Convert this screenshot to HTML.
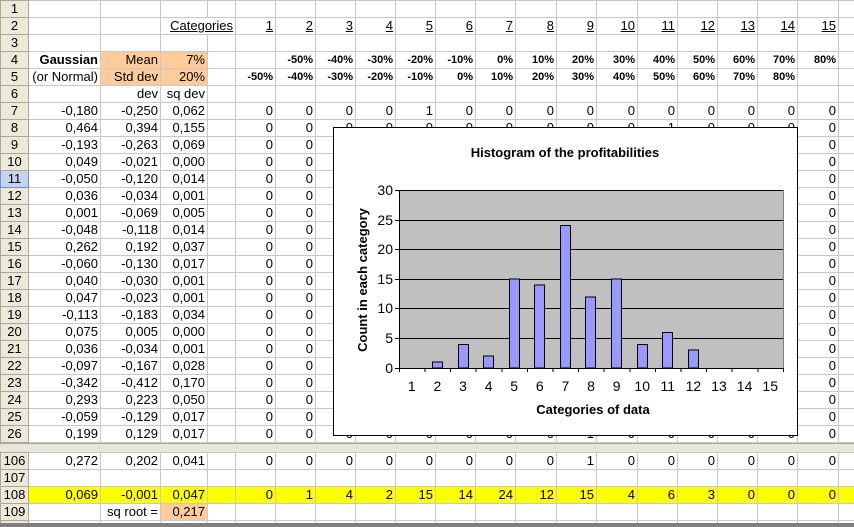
<!DOCTYPE html>
<html><head><meta charset="utf-8">
<style>
html,body{margin:0;width:854px;height:527px;overflow:hidden;}
body{background:#fff;position:relative;font-family:"Liberation Sans",Arial,sans-serif;}
table{border-collapse:collapse;table-layout:fixed;position:absolute;left:0;}
td{border:1px solid #c8c8c8;height:16px;padding:0 2px 0 0;font-size:13px;line-height:16px;text-align:right;white-space:nowrap;overflow:hidden;}
td.h{background:#ece9d8;border:1px solid #aca899;text-align:center;padding:0;color:#000;}
td.sel{background:#c5d3ec;border-color:#6b8fd1;}
.o{background:#ffcc99;}
.u{text-decoration:underline;}
.p{font-size:11px;font-weight:bold;}
tr.y td{background:#ffff00;}
tr.y td.h{background:#ece9d8;}
#split{position:absolute;left:0;top:443px;width:854px;height:8px;background:#e8e6dc;border-top:1px solid #aca899;border-bottom:1px solid #aca899;}
#chart{position:absolute;left:333px;top:127px;width:463px;height:307px;background:#fff;border:1px solid #000;}
#frame{position:absolute;left:0;top:523px;width:854px;height:4px;background:#808080;z-index:5;}
</style></head><body>
<table style="top:0;width:855px">
<colgroup><col style="width:28px"><col style="width:72px"><col style="width:60px"><col style="width:47px"><col style="width:28px">
<col style="width:40px"><col style="width:40px"><col style="width:40px"><col style="width:40px"><col style="width:40px"><col style="width:40px"><col style="width:40px"><col style="width:41px"><col style="width:40px"><col style="width:41px"><col style="width:40px"><col style="width:40px"><col style="width:40px"><col style="width:40px"><col style="width:41px"><col style="width:17px"></colgroup>
<tr><td class="h">1</td><td></td><td></td><td></td><td></td><td></td><td></td><td></td><td></td><td></td><td></td><td></td><td></td><td></td><td></td><td></td><td></td><td></td><td></td><td></td><td></td></tr>
<tr><td class="h">2</td><td></td><td></td><td colspan="2"><span class="u">Categories</span></td><td class="u">1</td><td class="u">2</td><td class="u">3</td><td class="u">4</td><td class="u">5</td><td class="u">6</td><td class="u">7</td><td class="u">8</td><td class="u">9</td><td class="u">10</td><td class="u">11</td><td class="u">12</td><td class="u">13</td><td class="u">14</td><td class="u">15</td><td></td></tr>
<tr><td class="h">3</td><td></td><td></td><td></td><td></td><td></td><td></td><td></td><td></td><td></td><td></td><td></td><td></td><td></td><td></td><td></td><td></td><td></td><td></td><td></td><td></td></tr>
<tr><td class="h">4</td><td><b>Gaussian</b></td><td class="o">Mean</td><td class="o">7%</td><td></td><td></td><td class="p">-50%</td><td class="p">-40%</td><td class="p">-30%</td><td class="p">-20%</td><td class="p">-10%</td><td class="p">0%</td><td class="p">10%</td><td class="p">20%</td><td class="p">30%</td><td class="p">40%</td><td class="p">50%</td><td class="p">60%</td><td class="p">70%</td><td class="p">80%</td><td></td></tr>
<tr><td class="h">5</td><td>(or Normal)</td><td class="o">Std dev</td><td class="o">20%</td><td></td><td class="p">-50%</td><td class="p">-40%</td><td class="p">-30%</td><td class="p">-20%</td><td class="p">-10%</td><td class="p">0%</td><td class="p">10%</td><td class="p">20%</td><td class="p">30%</td><td class="p">40%</td><td class="p">50%</td><td class="p">60%</td><td class="p">70%</td><td class="p">80%</td><td></td><td></td></tr>
<tr><td class="h">6</td><td></td><td>dev</td><td>sq dev</td><td></td><td></td><td></td><td></td><td></td><td></td><td></td><td></td><td></td><td></td><td></td><td></td><td></td><td></td><td></td><td></td><td></td></tr>
<tr><td class="h">7</td><td>-0,180</td><td>-0,250</td><td>0,062</td><td></td><td>0</td><td>0</td><td>0</td><td>0</td><td>1</td><td>0</td><td>0</td><td>0</td><td>0</td><td>0</td><td>0</td><td>0</td><td>0</td><td>0</td><td>0</td><td></td></tr>
<tr><td class="h">8</td><td>0,464</td><td>0,394</td><td>0,155</td><td></td><td>0</td><td>0</td><td>0</td><td>0</td><td>0</td><td>0</td><td>0</td><td>0</td><td>0</td><td>0</td><td>1</td><td>0</td><td>0</td><td>0</td><td>0</td><td></td></tr>
<tr><td class="h">9</td><td>-0,193</td><td>-0,263</td><td>0,069</td><td></td><td>0</td><td>0</td><td>0</td><td>0</td><td>0</td><td>0</td><td>0</td><td>0</td><td>0</td><td>0</td><td>0</td><td>0</td><td>0</td><td>0</td><td>0</td><td></td></tr>
<tr><td class="h">10</td><td>0,049</td><td>-0,021</td><td>0,000</td><td></td><td>0</td><td>0</td><td>0</td><td>0</td><td>0</td><td>0</td><td>0</td><td>0</td><td>0</td><td>0</td><td>0</td><td>0</td><td>0</td><td>0</td><td>0</td><td></td></tr>
<tr><td class="h sel">11</td><td>-0,050</td><td>-0,120</td><td>0,014</td><td></td><td>0</td><td>0</td><td>0</td><td>0</td><td>0</td><td>0</td><td>0</td><td>0</td><td>0</td><td>0</td><td>0</td><td>0</td><td>0</td><td>0</td><td>0</td><td></td></tr>
<tr><td class="h">12</td><td>0,036</td><td>-0,034</td><td>0,001</td><td></td><td>0</td><td>0</td><td>0</td><td>0</td><td>0</td><td>0</td><td>0</td><td>0</td><td>0</td><td>0</td><td>0</td><td>0</td><td>0</td><td>0</td><td>0</td><td></td></tr>
<tr><td class="h">13</td><td>0,001</td><td>-0,069</td><td>0,005</td><td></td><td>0</td><td>0</td><td>0</td><td>0</td><td>0</td><td>0</td><td>0</td><td>0</td><td>0</td><td>0</td><td>0</td><td>0</td><td>0</td><td>0</td><td>0</td><td></td></tr>
<tr><td class="h">14</td><td>-0,048</td><td>-0,118</td><td>0,014</td><td></td><td>0</td><td>0</td><td>0</td><td>0</td><td>0</td><td>0</td><td>0</td><td>0</td><td>0</td><td>0</td><td>0</td><td>0</td><td>0</td><td>0</td><td>0</td><td></td></tr>
<tr><td class="h">15</td><td>0,262</td><td>0,192</td><td>0,037</td><td></td><td>0</td><td>0</td><td>0</td><td>0</td><td>0</td><td>0</td><td>0</td><td>0</td><td>0</td><td>0</td><td>0</td><td>0</td><td>0</td><td>0</td><td>0</td><td></td></tr>
<tr><td class="h">16</td><td>-0,060</td><td>-0,130</td><td>0,017</td><td></td><td>0</td><td>0</td><td>0</td><td>0</td><td>0</td><td>0</td><td>0</td><td>0</td><td>0</td><td>0</td><td>0</td><td>0</td><td>0</td><td>0</td><td>0</td><td></td></tr>
<tr><td class="h">17</td><td>0,040</td><td>-0,030</td><td>0,001</td><td></td><td>0</td><td>0</td><td>0</td><td>0</td><td>0</td><td>0</td><td>0</td><td>0</td><td>0</td><td>0</td><td>0</td><td>0</td><td>0</td><td>0</td><td>0</td><td></td></tr>
<tr><td class="h">18</td><td>0,047</td><td>-0,023</td><td>0,001</td><td></td><td>0</td><td>0</td><td>0</td><td>0</td><td>0</td><td>0</td><td>0</td><td>0</td><td>0</td><td>0</td><td>0</td><td>0</td><td>0</td><td>0</td><td>0</td><td></td></tr>
<tr><td class="h">19</td><td>-0,113</td><td>-0,183</td><td>0,034</td><td></td><td>0</td><td>0</td><td>0</td><td>0</td><td>0</td><td>0</td><td>0</td><td>0</td><td>0</td><td>0</td><td>0</td><td>0</td><td>0</td><td>0</td><td>0</td><td></td></tr>
<tr><td class="h">20</td><td>0,075</td><td>0,005</td><td>0,000</td><td></td><td>0</td><td>0</td><td>0</td><td>0</td><td>0</td><td>0</td><td>0</td><td>0</td><td>0</td><td>0</td><td>0</td><td>0</td><td>0</td><td>0</td><td>0</td><td></td></tr>
<tr><td class="h">21</td><td>0,036</td><td>-0,034</td><td>0,001</td><td></td><td>0</td><td>0</td><td>0</td><td>0</td><td>0</td><td>0</td><td>0</td><td>0</td><td>0</td><td>0</td><td>0</td><td>0</td><td>0</td><td>0</td><td>0</td><td></td></tr>
<tr><td class="h">22</td><td>-0,097</td><td>-0,167</td><td>0,028</td><td></td><td>0</td><td>0</td><td>0</td><td>0</td><td>0</td><td>0</td><td>0</td><td>0</td><td>0</td><td>0</td><td>0</td><td>0</td><td>0</td><td>0</td><td>0</td><td></td></tr>
<tr><td class="h">23</td><td>-0,342</td><td>-0,412</td><td>0,170</td><td></td><td>0</td><td>0</td><td>0</td><td>0</td><td>0</td><td>0</td><td>0</td><td>0</td><td>0</td><td>0</td><td>0</td><td>0</td><td>0</td><td>0</td><td>0</td><td></td></tr>
<tr><td class="h">24</td><td>0,293</td><td>0,223</td><td>0,050</td><td></td><td>0</td><td>0</td><td>0</td><td>0</td><td>0</td><td>0</td><td>0</td><td>0</td><td>0</td><td>0</td><td>0</td><td>0</td><td>0</td><td>0</td><td>0</td><td></td></tr>
<tr><td class="h">25</td><td>-0,059</td><td>-0,129</td><td>0,017</td><td></td><td>0</td><td>0</td><td>0</td><td>0</td><td>0</td><td>0</td><td>0</td><td>0</td><td>0</td><td>0</td><td>0</td><td>0</td><td>0</td><td>0</td><td>0</td><td></td></tr>
<tr><td class="h">26</td><td>0,199</td><td>0,129</td><td>0,017</td><td></td><td>0</td><td>0</td><td>0</td><td>0</td><td>0</td><td>0</td><td>0</td><td>0</td><td>1</td><td>0</td><td>0</td><td>0</td><td>0</td><td>0</td><td>0</td><td></td></tr>
</table>
<div id="split"></div>
<table style="top:452px;width:855px">
<colgroup><col style="width:28px"><col style="width:72px"><col style="width:60px"><col style="width:47px"><col style="width:28px">
<col style="width:40px"><col style="width:40px"><col style="width:40px"><col style="width:40px"><col style="width:40px"><col style="width:40px"><col style="width:40px"><col style="width:41px"><col style="width:40px"><col style="width:41px"><col style="width:40px"><col style="width:40px"><col style="width:40px"><col style="width:40px"><col style="width:41px"><col style="width:17px"></colgroup>
<tr><td class="h">106</td><td>0,272</td><td>0,202</td><td>0,041</td><td></td><td>0</td><td>0</td><td>0</td><td>0</td><td>0</td><td>0</td><td>0</td><td>0</td><td>1</td><td>0</td><td>0</td><td>0</td><td>0</td><td>0</td><td>0</td><td></td></tr>
<tr><td class="h">107</td><td></td><td></td><td></td><td></td><td></td><td></td><td></td><td></td><td></td><td></td><td></td><td></td><td></td><td></td><td></td><td></td><td></td><td></td><td></td><td></td></tr>
<tr class="y"><td class="h">108</td><td>0,069</td><td>-0,001</td><td>0,047</td><td></td><td>0</td><td>1</td><td>4</td><td>2</td><td>15</td><td>14</td><td>24</td><td>12</td><td>15</td><td>4</td><td>6</td><td>3</td><td>0</td><td>0</td><td>0</td><td></td></tr>
<tr><td class="h">109</td><td></td><td>sq root =</td><td class="o">0,217</td><td></td><td></td><td></td><td></td><td></td><td></td><td></td><td></td><td></td><td></td><td></td><td></td><td></td><td></td><td></td><td></td><td></td></tr>
<tr><td class="h">110</td><td></td><td></td><td></td><td></td><td></td><td></td><td></td><td></td><td></td><td></td><td></td><td></td><td></td><td></td><td></td><td></td><td></td><td></td><td></td><td></td></tr>
</table>
<div id="frame"></div>
<div id="chart">
<svg width="463" height="307" xmlns="http://www.w3.org/2000/svg" font-family="Liberation Sans, Arial, sans-serif">
<text x="231" y="29" font-size="13" font-weight="bold" text-anchor="middle">Histogram of the profitabilities</text>
<rect x="65" y="62" width="384" height="178" fill="#c0c0c0"/>
<g stroke="#000" stroke-width="1">
<line x1="65" y1="62.5" x2="449" y2="62.5"/><line x1="65" y1="92.5" x2="449" y2="92.5"/><line x1="65" y1="121.5" x2="449" y2="121.5"/><line x1="65" y1="151.5" x2="449" y2="151.5"/><line x1="65" y1="180.5" x2="449" y2="180.5"/><line x1="65" y1="210.5" x2="449" y2="210.5"/>
</g>
<line x1="449.5" y1="62" x2="449.5" y2="240" stroke="#808080"/>
<g fill="#9999ff" stroke="#000" stroke-width="1">
<rect x="98.5" y="234" width="10" height="6"/>
<rect x="124.5" y="216.5" width="10" height="23.5"/>
<rect x="149.5" y="228" width="10" height="12"/>
<rect x="175.5" y="151" width="10" height="89"/>
<rect x="200.5" y="157" width="10" height="83"/>
<rect x="226.5" y="97.5" width="10" height="142.5"/>
<rect x="251.5" y="169" width="10" height="71"/>
<rect x="277.5" y="151" width="10" height="89"/>
<rect x="303.5" y="216.5" width="10" height="23.5"/>
<rect x="328.5" y="204.5" width="10" height="35.5"/>
<rect x="354.5" y="222" width="10" height="18"/>
</g>
<g stroke="#000" stroke-width="1">
<line x1="65.5" y1="62" x2="65.5" y2="244"/>
<line x1="61" y1="240.5" x2="449" y2="240.5"/>
<line x1="61" y1="62.5" x2="65" y2="62.5"/><line x1="61" y1="92.5" x2="65" y2="92.5"/><line x1="61" y1="121.5" x2="65" y2="121.5"/><line x1="61" y1="151.5" x2="65" y2="151.5"/><line x1="61" y1="180.5" x2="65" y2="180.5"/><line x1="61" y1="210.5" x2="65" y2="210.5"/>
<line x1="91" y1="240" x2="91" y2="244"/><line x1="116.5" y1="240" x2="116.5" y2="244"/><line x1="142" y1="240" x2="142" y2="244"/><line x1="168" y1="240" x2="168" y2="244"/><line x1="193.5" y1="240" x2="193.5" y2="244"/><line x1="219" y1="240" x2="219" y2="244"/><line x1="244.5" y1="240" x2="244.5" y2="244"/><line x1="270" y1="240" x2="270" y2="244"/><line x1="296" y1="240" x2="296" y2="244"/><line x1="321.5" y1="240" x2="321.5" y2="244"/><line x1="347" y1="240" x2="347" y2="244"/><line x1="372.5" y1="240" x2="372.5" y2="244"/><line x1="398" y1="240" x2="398" y2="244"/><line x1="424" y1="240" x2="424" y2="244"/><line x1="449.5" y1="240" x2="449.5" y2="244"/>
</g>
<g font-size="14" text-anchor="end">
<text x="59" y="67">30</text><text x="59" y="97">25</text><text x="59" y="126">20</text><text x="59" y="156">15</text><text x="59" y="185">10</text><text x="59" y="215">5</text><text x="59" y="245">0</text>
</g>
<g font-size="14" text-anchor="middle">
<text x="77.8" y="263">1</text><text x="103.4" y="263">2</text><text x="129" y="263">3</text><text x="154.6" y="263">4</text><text x="180.2" y="263">5</text><text x="205.8" y="263">6</text><text x="231.4" y="263">7</text><text x="257" y="263">8</text><text x="282.6" y="263">9</text><text x="308.2" y="263">10</text><text x="333.8" y="263">11</text><text x="359.4" y="263">12</text><text x="385" y="263">13</text><text x="410.6" y="263">14</text><text x="436.2" y="263">15</text>
</g>
<text x="259" y="286" font-size="13" font-weight="bold" text-anchor="middle">Categories of data</text>
<text transform="translate(33,152) rotate(-90)" font-size="13" font-weight="bold" text-anchor="middle">Count in each category</text>
</svg>
</div>
</body></html>
